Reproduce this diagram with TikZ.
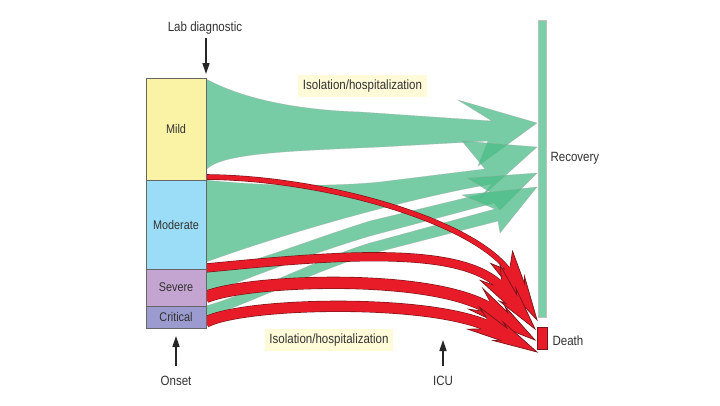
\documentclass[tikz,border=0pt]{standalone}
\usepackage{fontspec}
\setmainfont[FakeStretch=0.86]{Liberation Sans}
\usetikzlibrary{arrows.meta}
\definecolor{grn}{RGB}{75,188,135}
\definecolor{grnbar}{RGB}{122,206,168}
\definecolor{rd}{RGB}{232,28,40}
\definecolor{rdd}{RGB}{120,20,25}
\definecolor{mildc}{RGB}{250,242,165}
\definecolor{modc}{RGB}{155,221,246}
\definecolor{sevc}{RGB}{196,164,208}
\definecolor{critc}{RGB}{155,155,208}
\definecolor{lblbgc}{RGB}{255,250,215}
\definecolor{txt}{RGB}{50,50,50}
\tikzset{
  grnflow/.style={fill=grn, fill opacity=0.75, draw=gray!70, draw opacity=0.6, line width=0.4pt},
  stagebox/.style={draw=gray!80!black, line width=0.6pt, minimum width=60pt, inner sep=0pt, text=txt, font=\fontsize{12.6}{14}\selectfont},
  lbl/.style={text=txt, font=\fontsize{13.4}{16}\selectfont},
  lblbg/.style={lbl, fill=lblbgc, inner xsep=4.5pt, inner ysep=4.5pt},
  ptr/.style={-{Triangle[width=7pt,length=11pt]}, line width=1.6pt, black!85},
  redshaft/.style={draw=rdd, line width=0.6pt, double=rd, double distance=#1},
}
% #1 tip coordinate, #2 rotation, #3 half shaft width
\newcommand\RedHead[3]{%
  \begin{scope}[shift={(#1)},rotate=#2]
    \fill[rd] (0,0) -- (-44,-10.5) -- (-38,-7) -- (-72,-12.5) -- (-60,-#3) -- (-60,#3) -- (-72,12.5) -- (-38,7) -- (-44,10.5) -- cycle;
    \draw[rdd, line width=0.7pt, line join=miter] (-60,-#3) -- (-72,-12.5) -- (-38,-7) -- (-44,-10.5) -- (0,0) -- (-44,10.5) -- (-38,7) -- (-72,12.5) -- (-60,#3);
  \end{scope}}
\begin{document}
\begin{tikzpicture}[x=1pt,y=-1pt]
\useasboundingbox (0,0) rectangle (720,405);
\fill[white] (0,0) rectangle (720,405);

% green flows to recovery
\path[grnflow] (206,79) .. controls (245,100) and (300,110) .. (360,112) -- (492,121) -- (458,100) -- (537,123) -- (478,166) -- (488,141) -- (380,147) .. controls (290,151) and (220,153) .. (206,170) -- cycle;
\path[grnflow] (206,180) .. controls (260,186) and (330,187) .. (380,182) -- (485,169) -- (462,141) -- (537,147) -- (478,200) -- (492,184) .. controls (420,196) and (300,228) .. (206,262) -- cycle;
\path[grnflow] (206,271) .. controls (250,265) and (300,243) .. (370,221) -- (490,192) -- (467,178) -- (537,173) -- (500,210) -- (494,203) -- (370,236) .. controls (300,257) and (240,282) .. (206,294) -- cycle;
\path[grnflow] (206,306) .. controls (260,290) and (320,258) .. (370,243) -- (495,209) -- (462,195) -- (537,187) -- (500,233) -- (498,221) -- (370,254) .. controls (320,270) and (260,298) .. (206,318) -- cycle;

% red flows to death
\coordinate (r1s) at (206,177); \coordinate (r1b) at (512.5,276.5); \coordinate (r1t) at (537,320);
\coordinate (r2s) at (206,268); \coordinate (r2b) at (504,290);     \coordinate (r2t) at (535,329);
\coordinate (r3s) at (206,297); \coordinate (r3b) at (494,311.5);   \coordinate (r3t) at (535,340);
\coordinate (r4s) at (206,322); \coordinate (r4b) at (493,328.5);   \coordinate (r4t) at (537,352);

\draw[redshaft=4.4pt] (r1s) .. controls (330,178) and (483,224) .. (r1b);
\RedHead{r1t}{-60.6}{3}
\draw[redshaft=8pt] (r2s) .. controls (330,256) and (467,243) .. (r2b);
\RedHead{r2t}{-51.5}{5}
\draw[redshaft=11pt] (r3s) .. controls (245,280) and (437,271.5) .. (r3b);
\RedHead{r3t}{-34.8}{6.5}
\draw[redshaft=10pt] (r4s) .. controls (245,302) and (436,298) .. (r4b);
\RedHead{r4t}{-28.1}{6}

% stage boxes
\node[stagebox, fill=mildc, minimum height=102pt] (mild) at (176,129) {Mild};
\node[stagebox, fill=modc, minimum height=89pt] (moderate) at (176,224.5) {Moderate};
\node[stagebox, fill=sevc, minimum height=37pt] (severe) at (176,287.5) {Severe};
\node[stagebox, fill=critc, minimum height=22pt] (critical) at (176,317) {Critical};

% outcome bars
\node[fill=grnbar, draw=gray!50, line width=0.4pt, minimum width=8pt, minimum height=297pt, inner sep=0pt] (recbar) at (542,168.5) {};
\node[fill=rd, draw=rdd, line width=0.6pt, minimum width=10pt, minimum height=22pt, inner sep=0pt] (deathbox) at (542,338) {};
\node[lbl, anchor=west] (rec) at (547,158) {Recovery};
\node[lbl, anchor=west] (death) at (549,341) {Death};

% labels
\node[lblbg] (iso1) at (362.5,86) {Isolation/hospitalization};
\node[lblbg] (iso2) at (329,340) {Isolation/hospitalization};

\node[lbl] (lab) at (205,28) {Lab diagnostic};
\coordinate (labtip) at (206,74);
\draw[ptr] (lab.south -| labtip) -- (labtip);

\node[lbl] (onset) at (176,381) {Onset};
\coordinate (onsettip) at (176,336);
\draw[ptr, shorten <=7pt] (onset.north) -- (onsettip);

\node[lbl] (icu) at (443,381) {ICU};
\coordinate (icutip) at (443,340);
\draw[ptr, shorten <=7pt] (icu.north) -- (icutip);
\end{tikzpicture}
\end{document}
